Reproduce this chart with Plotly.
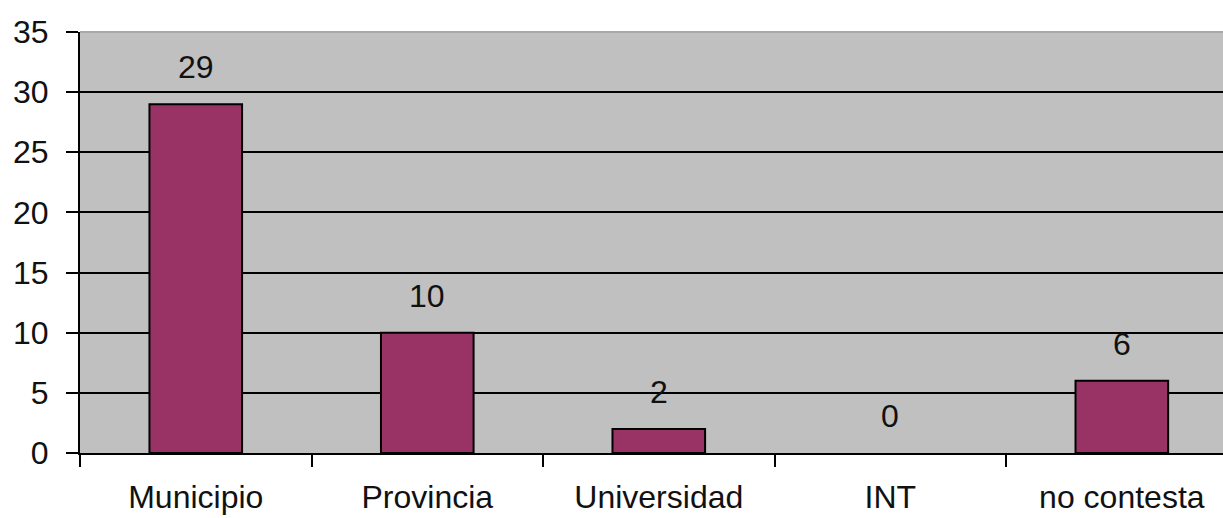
import plotly.graph_objects as go

categories = ["Municipio", "Provincia", "Universidad", "INT", "no contesta"]
values = [29, 10, 2, 0, 6]
y_ticks = [0, 5, 10, 15, 20, 25, 30, 35]
grid_ticks = [5, 10, 15, 20, 25, 30]

FONT = "Liberation Sans"
FS = 32

fig = go.Figure()
fig.add_trace(go.Scatter(x=[categories[0]], y=[None], yaxis="y2",
                         showlegend=False, hoverinfo="skip"))
fig.add_trace(go.Bar(
    x=categories, y=values,
    marker=dict(color="#993366",
                line=dict(color="black", width=[0 if v == 0 else 2 for v in values])),
    width=0.4, showlegend=False, hoverinfo="skip",
))

for c, v in zip(categories, values):
    fig.add_annotation(x=c, y=v, text=str(v), showarrow=False,
                       yanchor="middle", yshift=37,
                       font=dict(family=FONT, size=32, color="#111111"))

fig.update_layout(
    width=1223, height=518,
    margin=dict(l=80, r=0, t=32, b=65),
    paper_bgcolor="white", plot_bgcolor="#C0C0C0",
    font=dict(family=FONT, size=FS, color="#111111"),
    xaxis=dict(
        type="category", range=[-0.5, 4.437], automargin=False,
        tickson="boundaries", ticks="outside", ticklen=12, tickwidth=2,
        tickcolor="black", showline=True, linecolor="black", linewidth=2,
        showgrid=False, tickfont=dict(family=FONT, size=32),
        ticklabelstandoff=15,
    ),
    yaxis=dict(
        range=[0, 35], tickvals=y_ticks, ticks="outside", ticklen=12,
        automargin=False,
        tickwidth=2, tickcolor="black", showline=True, linecolor="black",
        linewidth=2, showgrid=False, zeroline=False,
        tickfont=dict(family=FONT, size=32), ticklabelstandoff=11,
    ),
    yaxis2=dict(
        range=[0, 35], tickvals=grid_ticks, overlaying="y", automargin=False,
        showticklabels=False, showgrid=True, gridcolor="black", gridwidth=2,
        zeroline=False, showline=False, ticks="",
    ),
)

fig.add_shape(type="line", xref="paper", yref="paper", x0=0, x1=1, y0=1, y1=1,
              line=dict(color="#A8A8A8", width=2))

fig.write_html("out.html")
